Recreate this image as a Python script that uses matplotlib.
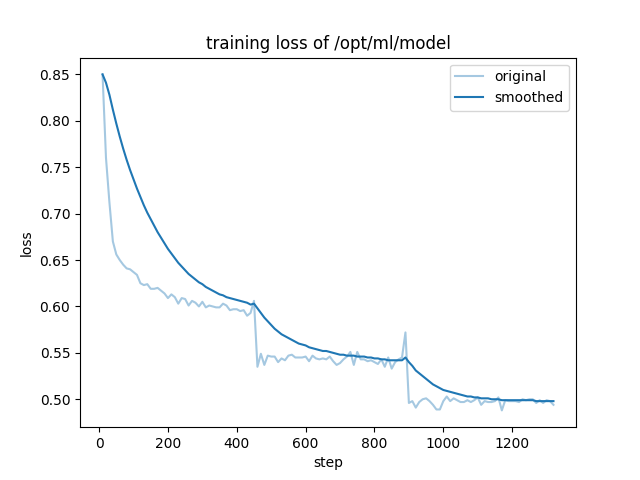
import matplotlib
matplotlib.use("Agg")
import matplotlib.pyplot as plt

steps = list(range(10, 1330, 10))

original = [
    0.850, 0.760, 0.712, 0.670, 0.656, 0.650, 0.645, 0.641, 0.640, 0.637,
    0.634, 0.625, 0.623, 0.624, 0.619, 0.619, 0.620, 0.617, 0.614, 0.609,
    0.613, 0.610, 0.603, 0.609, 0.608, 0.601, 0.606, 0.604, 0.600, 0.605,
    0.599, 0.601, 0.600, 0.599, 0.599, 0.603, 0.601, 0.596, 0.597, 0.597,
    0.595, 0.596, 0.590, 0.593, 0.606, 0.535, 0.549, 0.537, 0.547, 0.546,
    0.546, 0.540, 0.544, 0.542, 0.547, 0.548, 0.545, 0.545, 0.545, 0.546,
    0.541, 0.547, 0.544, 0.543, 0.544, 0.543, 0.546, 0.541, 0.537, 0.539,
    0.543, 0.546, 0.551, 0.537, 0.551, 0.543, 0.543, 0.541, 0.542, 0.540,
    0.538, 0.543, 0.535, 0.545, 0.533, 0.540, 0.543, 0.545, 0.572, 0.496,
    0.498, 0.491, 0.497, 0.500, 0.501, 0.498, 0.494, 0.489, 0.489, 0.498,
    0.503, 0.498, 0.501, 0.499, 0.497, 0.497, 0.499, 0.497, 0.499, 0.502,
    0.494, 0.498, 0.497, 0.497, 0.498, 0.502, 0.488, 0.499, 0.498, 0.498,
    0.498, 0.497, 0.500, 0.499, 0.500, 0.500, 0.496, 0.499, 0.496, 0.499,
    0.498, 0.494,
]

smoothed = [
    0.850, 0.841, 0.828, 0.812, 0.797, 0.783, 0.770, 0.758, 0.747, 0.737,
    0.727, 0.718, 0.709, 0.701, 0.694, 0.687, 0.680, 0.674, 0.668, 0.662,
    0.657, 0.652, 0.647, 0.643, 0.639, 0.635, 0.632, 0.629, 0.626, 0.624,
    0.621, 0.619, 0.617, 0.615, 0.613, 0.612, 0.610, 0.609, 0.608, 0.607,
    0.606, 0.605, 0.604, 0.602, 0.603, 0.598, 0.593, 0.588, 0.584, 0.580,
    0.576, 0.573, 0.570, 0.568, 0.566, 0.564, 0.562, 0.560, 0.559, 0.558,
    0.556, 0.555, 0.554, 0.553, 0.552, 0.552, 0.551, 0.550, 0.549, 0.548,
    0.548, 0.547, 0.547, 0.547, 0.546, 0.546, 0.546, 0.545, 0.545, 0.544,
    0.544, 0.543, 0.543, 0.542, 0.542, 0.542, 0.542, 0.542, 0.545, 0.540,
    0.536, 0.531, 0.528, 0.525, 0.522, 0.519, 0.516, 0.514, 0.512, 0.510,
    0.509, 0.508, 0.507, 0.506, 0.505, 0.504, 0.503, 0.503, 0.502, 0.502,
    0.501, 0.501, 0.501, 0.500, 0.500, 0.500, 0.499, 0.499, 0.499, 0.499,
    0.499, 0.499, 0.499, 0.499, 0.499, 0.499, 0.498, 0.498, 0.498, 0.498,
    0.498, 0.498,
]

plt.figure(figsize=(6.4, 4.8), dpi=100)
plt.plot(steps, original, color="#1f77b4", alpha=0.4, label="original")
plt.plot(steps, smoothed, color="#1f77b4", label="smoothed")
plt.title("training loss of /opt/ml/model")
plt.xlabel("step")
plt.ylabel("loss")
plt.legend()
plt.savefig("out.png", dpi=100)
